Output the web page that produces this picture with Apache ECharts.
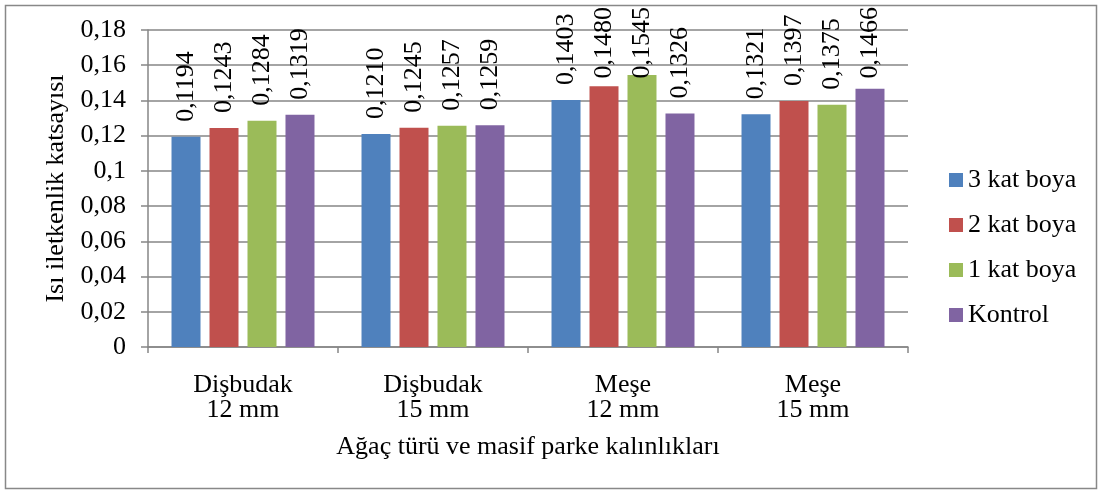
<!DOCTYPE html>
<html>
<head>
<meta charset="utf-8">
<script src="https://cdn.jsdelivr.net/npm/echarts@6/dist/echarts.min.js"></script>
<style>
html, body { margin: 0; padding: 0; background: #fff; }
#chart { width: 1103px; height: 494px; }
</style>
</head>
<body>
<div id="chart"></div>
<script>
var categories = ['Dişbudak\n12 mm', 'Dişbudak\n15 mm', 'Meşe\n12 mm', 'Meşe\n15 mm'];
var kat3 = [0.1194, 0.1210, 0.1403, 0.1321];
var kat2 = [0.1243, 0.1245, 0.1480, 0.1397];
var kat1 = [0.1284, 0.1257, 0.1545, 0.1375];
var kontrol = [0.1319, 0.1259, 0.1326, 0.1466];
var yTicks = [0, 0.02, 0.04, 0.06, 0.08, 0.1, 0.12, 0.14, 0.16, 0.18];

var fontName = '"Liberation Serif", "Times New Roman", serif';
var fs = 26;
var myChart = echarts.init(document.getElementById('chart'));

function makeSeries(name, data, color) {
	return {
		name: name,
		type: 'bar',
		data: data,
		barWidth: 29,
		barGap: '31%',
		itemStyle: { color: color },
		label: {
			show: true,
			position: 'top',
			rotate: 90,
			align: 'left',
			verticalAlign: 'middle',
			distance: 15,
			fontFamily: fontName,
			fontSize: fs,
			color: '#000',
			formatter: function (p) { return p.value.toFixed(4).replace('.', ','); }
		},
		// keep labels inside the chart like Excel does
		labelLayout: function (params) {
			var r = params.labelRect;
			if (r && r.y < 7) {
				return { x: r.x + r.width / 2, y: 7 + r.height };
			}
			return {};
		}
	};
}

option = {
	animation: false,
	textStyle: { fontFamily: fontName },
	graphic: [{
		type: 'rect',
		shape: { x: 5.5, y: 5.5, width: 1091, height: 483 },
		style: { fill: 'none', stroke: '#888', lineWidth: 1.5 },
		silent: true
	}],
	grid: {
		left: 148,
		right: 195,
		top: 30,
		bottom: 147
	},
	legend: {
		orient: 'vertical',
		left: 944,
		top: 162,
		itemWidth: 14,
		itemHeight: 14,
		itemGap: 19,
		icon: 'rect',
		textStyle: { fontFamily: fontName, fontSize: fs, color: '#000' },
		data: ['3 kat boya', '2 kat boya', '1 kat boya', 'Kontrol']
	},
	xAxis: {
		type: 'category',
		data: categories,
		name: 'Ağaç türü ve masif parke kalınlıkları',
		nameLocation: 'middle',
		nameGap: 87,
		nameTextStyle: { fontFamily: fontName, fontSize: fs, color: '#000' },
		axisLine: { lineStyle: { color: '#868686', width: 1.5 } },
		axisTick: { show: true, length: 6, lineStyle: { color: '#868686', width: 1.5 } },
		axisLabel: {
			fontFamily: fontName,
			fontSize: fs,
			color: '#000',
			margin: 26,
			lineHeight: 25
		}
	},
	yAxis: {
		type: 'value',
		min: 0,
		max: 0.18,
		interval: 0.02,
		name: 'Isı iletkenlik katsayısı',
		nameLocation: 'middle',
		nameGap: 70,
		nameTextStyle: { fontFamily: fontName, fontSize: fs, color: '#000' },
		axisLine: { show: true, lineStyle: { color: '#868686', width: 1.5 } },
		axisTick: { show: true, length: 7, lineStyle: { color: '#868686', width: 1.5 } },
		splitLine: { lineStyle: { color: '#868686', width: 1.5 } },
		axisLabel: {
			fontFamily: fontName,
			fontSize: fs,
			color: '#000',
			margin: 22,
			formatter: function (v) {
				var t = yTicks.find(function (k) { return Math.abs(k - v) < 1e-9; });
				return String(t !== undefined ? t : v).replace('.', ',');
			}
		}
	},
	series: [
		makeSeries('3 kat boya', kat3, '#4F81BD'),
		makeSeries('2 kat boya', kat2, '#C0504D'),
		makeSeries('1 kat boya', kat1, '#9BBB59'),
		makeSeries('Kontrol', kontrol, '#8064A2')
	]
};
myChart.setOption(option);
</script>
</body>
</html>
